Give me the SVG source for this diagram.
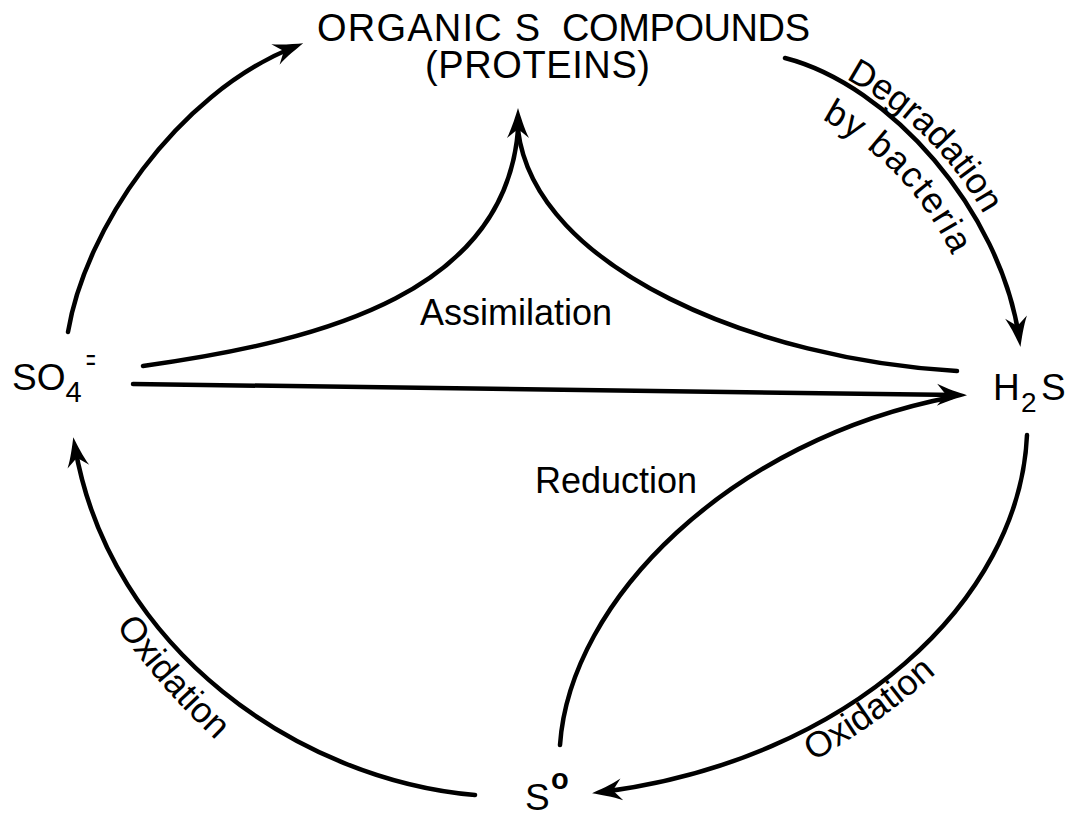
<svg xmlns="http://www.w3.org/2000/svg" width="1073" height="814" viewBox="0 0 1073 814">
<defs>
<style>
text{font-family:"Liberation Sans",Arial,sans-serif;fill:#000}
.lbl{font-size:36px}
.title{font-size:38px}
.node{font-size:37px}
.sub{font-size:28px}
.conn{fill:none;stroke:#000;stroke-width:4.5;stroke-linecap:round}
</style>
<marker id="ah" markerUnits="userSpaceOnUse" markerWidth="34" markerHeight="26" viewBox="-32 -13 34 26" refX="-10" refY="0" orient="auto" overflow="visible">
<path d="M0,0 C-8,-2.5 -20,-6 -30,-11 L-21,0 L-30,11 C-20,6 -8,2.5 0,0 Z" fill="#000"/>
</marker>
<path id="tpDeg" d="M682.5,37.6 A345,345 0 0 1 1027.5,382.6"/>
<path id="tpBy" d="M682.5,84.6 A298,298 0 0 1 980.5,382.6"/>
<path id="tpOxL" d="M89,584 Q145,681 253,774"/>
<path id="tpOxR" d="M781,778 Q876,732 963,649"/>
</defs>
<rect width="1073" height="814" fill="#fff"/>

<g id="connectors">
<path class="conn" d="M68,332 C85,230 175,95 294,47" marker-end="url(#ah)"/>
<path class="conn" d="M785,58 C890,85 1000,210 1019,337" marker-end="url(#ah)"/>
<path class="conn" d="M143,366 C330,340 505,290 518,130"/>
<path class="conn" d="M957,371 C760,360 535,270 518,130"/>
<path class="conn" d="M518,132 L518,118" marker-end="url(#ah)"/>
<path class="conn" d="M133,384 L957,395" marker-end="url(#ah)"/>
<path class="conn" d="M560,745 C570,600 730,440 952,397"/>
<path class="conn" d="M1027,435 C1020,600 850,760 602,792" marker-end="url(#ah)"/>
<path class="conn" d="M475,795 C300,780 110,650 75,447" marker-end="url(#ah)"/>
</g>

<g id="labels">
<text class="lbl"><textPath href="#tpDeg" startOffset="49.5%" text-anchor="middle">Degradation</textPath></text>
<text class="lbl" letter-spacing="1.5"><textPath href="#tpBy" startOffset="51.6%" text-anchor="middle">by bacteria</textPath></text>
<text class="lbl" x="420" y="325">Assimilation</text>
<text class="lbl" x="535" y="493">Reduction</text>
<text class="lbl"><textPath href="#tpOxL" startOffset="50%" text-anchor="middle">Oxidation</textPath></text>
<text class="lbl"><textPath href="#tpOxR" startOffset="50%" text-anchor="middle">Oxidation</textPath></text>
</g>

<g id="node-organic">
<text class="title" x="317" y="41" textLength="223" lengthAdjust="spacing">ORGANIC S</text>
<text class="title" x="562" y="41" textLength="248" lengthAdjust="spacing">COMPOUNDS</text>
<text class="title" x="425" y="78" textLength="225" lengthAdjust="spacing">(PROTEINS)</text>
</g>

<g id="node-so4">
<text class="node" x="12" y="390">SO<tspan font-size="29" dy="12">4</tspan></text>
<text font-size="30" transform="translate(86,370) scale(0.55,1)">=</text>
</g>

<g id="node-h2s">
<text class="node" x="993" y="400">H<tspan class="sub" x="1021" dy="12">2</tspan><tspan x="1041" dy="-12">S</tspan></text>
</g>

<g id="node-s0">
<text class="node" x="525" y="810">S<tspan font-size="29" font-weight="bold" x="551" y="789">o</tspan></text>
</g>
</svg>
